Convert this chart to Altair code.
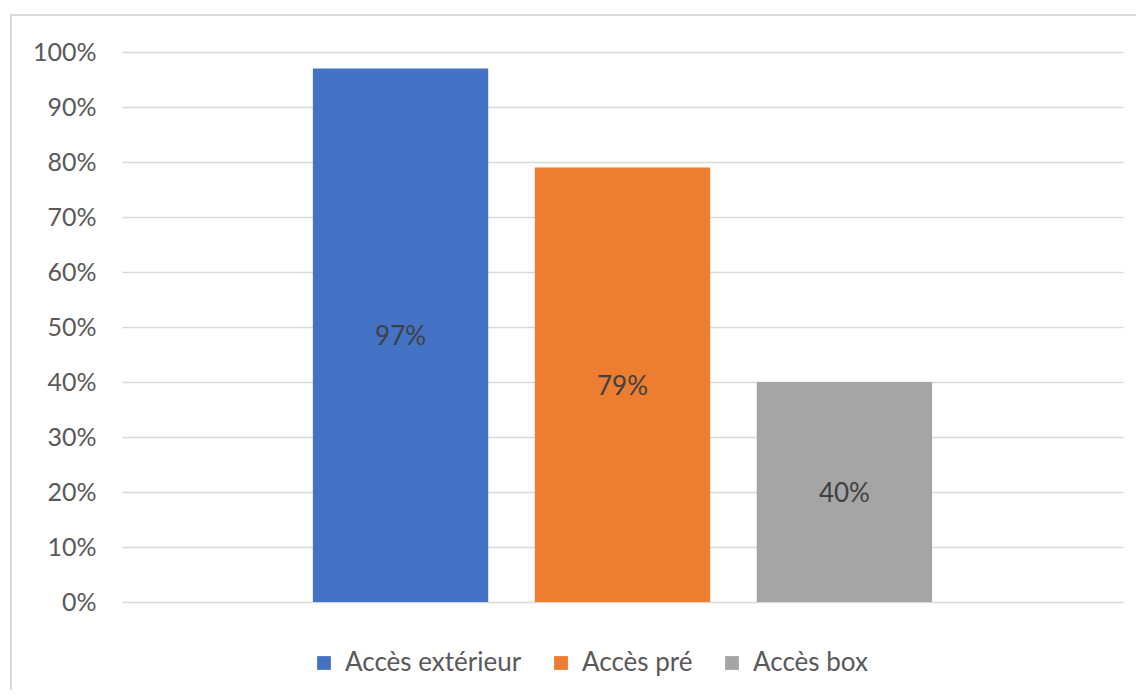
import altair as alt
import pandas as pd

series = ["Accès extérieur", "Accès pré", "Accès box"]
values = [0.97, 0.79, 0.40]
colors = ["#4472C4", "#ED7D31", "#A5A5A5"]

df = pd.DataFrame({"serie": series, "value": values})

FONT = "Lato"
TXT = "#595959"

base = alt.Chart(df)

xenc = alt.X("serie:N", sort=series, axis=None,
             scale=alt.Scale(paddingInner=0.21, paddingOuter=0.86))

bars = base.mark_bar().encode(
    x=xenc,
    y=alt.Y("value:Q",
            scale=alt.Scale(domain=[0, 1]),
            axis=alt.Axis(format=".0%", values=[i / 10 for i in range(11)],
                          title=None, domain=False, ticks=False,
                          labelPadding=26, labelFontSize=25, labelColor=TXT,
                          labelFont=FONT, gridColor="#d9d9d9", gridWidth=1.5)),
    color=alt.Color("serie:N", sort=series,
                    scale=alt.Scale(domain=series, range=colors),
                    legend=alt.Legend(title=None, orient="none", direction="horizontal",
                                      legendX=189, legendY=598,
                                      symbolType="square", symbolSize=190,
                                      symbolStrokeWidth=0, labelLimit=500,
                                      labelFontSize=26, labelFont=FONT, labelColor=TXT,
                                      columnPadding=26, labelOffset=8)),
)

labels = base.transform_calculate(mid="datum.value / 2").mark_text(
    font=FONT, fontSize=26, color="#404040", dy=2
).encode(
    x=xenc,
    y=alt.Y("mid:Q"),
    text=alt.Text("value:Q", format=".0%"),
)

frame = alt.Chart(df).mark_rect(
    fill=None, stroke="#d9d9d9", strokeWidth=2
).encode(
    x=alt.value(-111), x2=alt.value(1040),
    y=alt.value(-37), y2=alt.value(700),
)

chart = alt.layer(frame, bars, labels).properties(
    width=1001, height=550,
    background="white",
    autosize=alt.AutoSizeParams(type="none"),
    padding={"left": 114, "top": 44, "right": 13, "bottom": 88},
).configure_view(stroke=None)

chart.save("out.html", embed_options={"renderer": "svg", "actions": False})
